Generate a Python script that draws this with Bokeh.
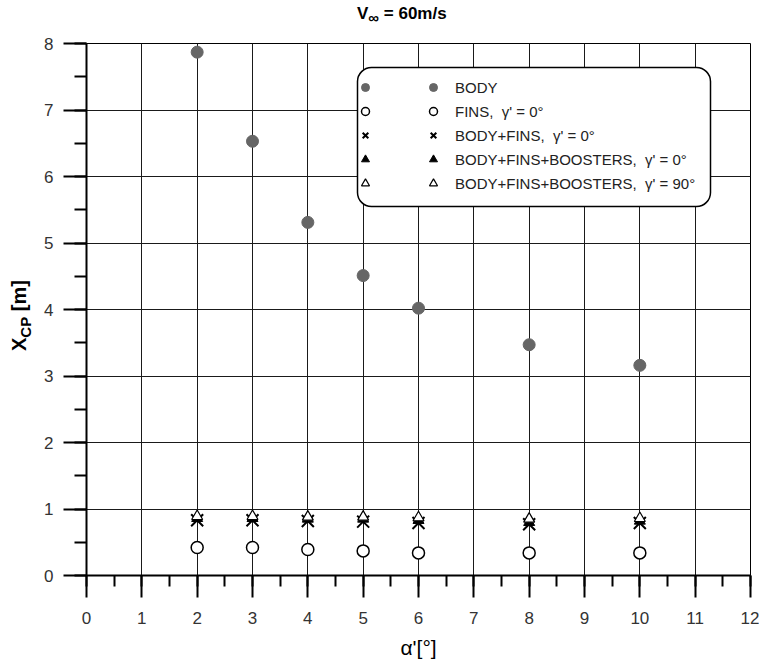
from bokeh.plotting import figure
from bokeh.layouts import column, row
from bokeh.models import (Legend, LegendItem, BoxAnnotation, Div,
                          SingleIntervalTicker, Range1d)
from bokeh.embed import file_html
from bokeh.resources import INLINE

# ---- data ----
alpha = [2, 3, 4, 5, 6, 8, 10]
body = [7.87, 6.53, 5.31, 4.51, 4.02, 3.47, 3.16]
fins = [0.42, 0.42, 0.39, 0.37, 0.34, 0.34, 0.34]
body_fins = [0.83, 0.83, 0.82, 0.81, 0.79, 0.77, 0.79]
bfb_0 = [0.86, 0.86, 0.85, 0.85, 0.83, 0.80, 0.82]
bfb_90 = [0.89, 0.89, 0.88, 0.88, 0.87, 0.85, 0.86]

series_labels = [
    "BODY",
    "FINS,\u00a0\u00a0\u03b3' = 0\u00b0",
    "BODY+FINS,\u00a0\u00a0\u03b3' = 0\u00b0",
    "BODY+FINS+BOOSTERS,\u00a0\u00a0\u03b3' = 0\u00b0",
    "BODY+FINS+BOOSTERS,\u00a0\u00a0\u03b3' = 90\u00b0",
]
x_axis_label = "\u03b1'[\u00b0]"
title_main, title_sub, title_rest = "V", "\u221e", "\u00a0= 60m/s"
ylab_main, ylab_sub, ylab_rest = "X", "CP", "\u00a0[m]"

FONT = "Liberation Sans"
TITLE_H = 30
YLAB_W = 40

p = figure(width=759 - YLAB_W, height=667 - TITLE_H, output_backend="svg",
           toolbar_location=None,
           x_range=Range1d(0, 12), y_range=Range1d(0, 8),
           min_border_left=86 - YLAB_W, min_border_right=9,
           min_border_top=43 - TITLE_H, min_border_bottom=92, margin=0)
p.outline_line_color = "black"

for ax in (p.xaxis[0], p.yaxis[0]):
    ax.ticker = SingleIntervalTicker(interval=1, num_minor_ticks=2)
    ax.axis_line_width = 2
    ax.major_tick_line_width = 2
    ax.minor_tick_line_width = 2
    ax.major_tick_in = 0
    ax.minor_tick_in = 0
    ax.major_label_text_font = FONT
    ax.major_label_text_font_size = "17px"
    ax.major_label_text_color = "#333333"

p.xaxis.major_tick_out = 22
p.xaxis.minor_tick_out = 11
p.xaxis.major_label_standoff = 14
p.xaxis.axis_label = x_axis_label
p.xaxis.axis_label_text_font = FONT
p.xaxis.axis_label_text_font_size = "21px"
p.xaxis.axis_label_text_font_style = "normal"
p.xaxis.axis_label_text_color = "black"
p.xaxis.axis_label_standoff = 9

p.yaxis.major_tick_out = 23
p.yaxis.minor_tick_out = 12
p.yaxis.major_label_standoff = 10

for g in (p.xgrid[0], p.ygrid[0]):
    g.grid_line_color = "#1a1a1a"
    g.ticker = SingleIntervalTicker(interval=1)

# ---- series ----
r_body = p.scatter(alpha, body, marker="circle", size=12, fill_color="#666666",
                   line_color="#666666")
r_fins = p.scatter(alpha, fins, marker="circle", size=12, fill_color="white",
                   line_color="black", line_width=1.5)
r_bf = p.scatter(alpha, body_fins, marker="x", size=17, line_color="black",
                 line_width=2)
r_b0 = p.scatter(alpha, bfb_0, marker="triangle", size=11, fill_color="black",
                 line_color="black")
r_b90 = p.scatter(alpha, bfb_90, marker="triangle", size=11, fill_color="white",
                  line_color="black", line_width=1.2)
renderers = [r_body, r_fins, r_bf, r_b0, r_b90]

# ---- legend: rounded box + two glyph columns ----
box = BoxAnnotation(left=271, right=624, bottom=369, top=508,
                    left_units="screen", right_units="screen",
                    top_units="screen", bottom_units="screen",
                    fill_color="white", fill_alpha=1.0,
                    line_color="black", line_alpha=1.0, line_width=1.5,
                    border_radius=14)
p.add_layout(box)

common = dict(glyph_width=20, glyph_height=20, label_height=20, spacing=4,
              padding=0, margin=0, background_fill_alpha=0,
              border_line_alpha=0, label_text_font=FONT,
              label_text_font_size="15px", label_text_color="#222222")
leg_left = Legend(items=[LegendItem(label="\u00a0", renderers=[r])
                         for r in renderers],
                  location=(269, 382), label_standoff=0, **common)
leg_right = Legend(items=[LegendItem(label=lab, renderers=[r])
                          for lab, r in zip(series_labels, renderers)],
                   location=(337, 382), label_standoff=12, **common)
p.add_layout(leg_left)
p.add_layout(leg_right)

# ---- title (HTML, with subscript) ----
title_html = (
    f'<div style="position:relative;width:759px;height:{TITLE_H}px;">'
    f'<div style="position:absolute;left:357px;top:2px;white-space:nowrap;'
    f'font-family:\'{FONT}\';font-weight:bold;font-size:17px;color:black;">'
    f'{title_main}<sub style="font-size:15px;">{title_sub}</sub>{title_rest}'
    f'</div></div>'
)
title_div = Div(text=title_html, width=759, height=TITLE_H, margin=0)

# ---- y axis label (HTML, rotated, with subscript) ----
ylab_html = (
    f'<div style="position:relative;width:{YLAB_W}px;height:{667 - TITLE_H}px;">'
    f'<div style="position:absolute;left:5px;top:{351 - TITLE_H}px;'
    f'transform:rotate(-90deg);transform-origin:left top;white-space:nowrap;'
    f'font-family:\'{FONT}\';font-weight:bold;font-size:20px;color:black;">'
    f'{ylab_main}<sub style="font-size:15px;">{ylab_sub}</sub>{ylab_rest}'
    f'</div></div>'
)
ylab_div = Div(text=ylab_html, width=YLAB_W, height=667 - TITLE_H, margin=0)

layout = column(title_div, row(ylab_div, p, spacing=0, margin=0),
                spacing=0, margin=0)

open("out.html", "w").write(file_html(layout, INLINE))
